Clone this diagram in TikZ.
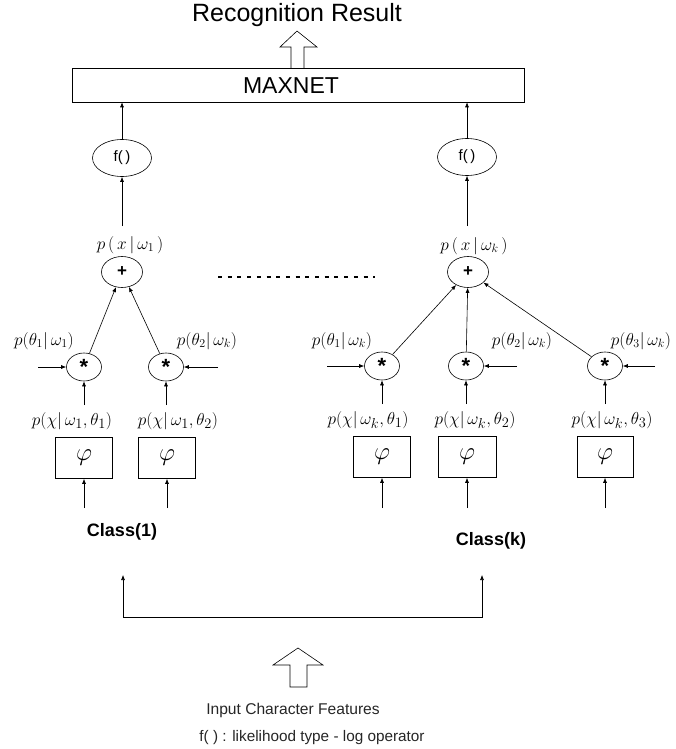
\documentclass[tikz,border=0pt]{standalone}
\usepackage{fontspec}
\setmainfont{Liberation Sans}
\usetikzlibrary{shapes.geometric,arrows.meta}
\begin{document}
\begin{tikzpicture}[x=1pt,y=-1pt,
  line width=0.6pt,
  arr/.style={-{Latex[length=5pt,width=4pt]}},
  arrboth/.style={{Latex[length=5pt,width=4pt]}-{Latex[length=5pt,width=4pt]}},
  ell/.style={draw,ellipse,inner sep=0pt},
  fnode/.style={ell,minimum width=59pt,minimum height=37pt,font=\fontsize{15}{15}\selectfont},
  plusnode/.style={ell,minimum width=41pt,minimum height=31pt,font=\fontsize{17}{17}\selectfont\bfseries},
  starnode/.style={ell,minimum width=35pt,minimum height=28pt,font=\fontsize{22}{22}\selectfont\bfseries},
  phibox/.style={draw,minimum width=57pt,minimum height=41pt,inner sep=0pt,font=\fontsize{24}{24}\selectfont},
  mlab/.style={inner sep=0pt,font=\fontsize{18}{18}\selectfont},
  hollow/.style={draw,fill=white,line width=0.6pt},
  txt/.style={inner sep=0pt}
]
\useasboundingbox (0,0) rectangle (675,749);

% top title and hollow arrow
\node[txt,anchor=base,font=\fontsize{25}{25}\selectfont] (title) at (297,22) {Recognition Result};
\draw[hollow] (291,68) -- (291,47) -- (280,47) -- (297,31) -- (317,47) -- (304,47) -- (304,68);

% MAXNET
\node[draw,minimum width=452pt,minimum height=34pt,inner sep=0pt] (maxnet) at (298,85) {};
\node[txt,font=\fontsize{23}{23}\selectfont] (maxtxt) at (291,86) {MAXNET};

% f() nodes
\node[fnode] (f1) at (122,158) {f(\,)};
\node[fnode] (f2) at (467,157) {f(\,)};
\draw[arr] (f1) -- (f1 |- maxnet.south);
\draw[arr] (f2) -- (f2 |- maxnet.south);

% p(x|w) labels
\node[txt,font=\fontsize{17}{17}\selectfont] (px1) at (130,245) {$p\,(\,x\,|\,\omega_1\,)$};
\node[txt,font=\fontsize{17}{17}\selectfont] (px2) at (474,246) {$p\,(\,x\,|\,\omega_k\,)$};
\coordinate (px1a) at (122,226);
\coordinate (px2a) at (467,226);
\draw[arr] (px1a) -- (f1);
\draw[arr] (px2a) -- (f2);

% plus nodes
\node[plusnode] (plus1) at (122,272) {+};
\node[plusnode] (plus2) at (468,272) {+};

% dotted separator
\coordinate (dl) at (218,277);
\coordinate (dr) at (375,277);
\draw[line width=1.4pt,dash pattern=on 4pt off 5.7pt] (dl) -- (dr);

% star nodes
\node[starnode] (s1) at (84,367) {\raisebox{-6pt}{*}};
\node[starnode] (s2) at (166,367) {\raisebox{-6pt}{*}};
\node[starnode] (s3) at (382,366) {\raisebox{-6pt}{*}};
\node[starnode] (s4) at (466,366) {\raisebox{-6pt}{*}};
\node[starnode] (s5) at (605,366) {\raisebox{-6pt}{*}};

\draw[arr] (s1) -- (plus1);
\draw[arr] (s2) -- (plus1);
\draw[arr] (s3) -- (plus2);
\draw[arr] (s4) -- (plus2);
\draw[arr] (s5) -- (plus2);

% side inputs
\coordinate (i1) at (38,367);
\coordinate (i2) at (218,367);
\coordinate (i3) at (327,366);
\coordinate (i4) at (517,366);
\coordinate (i5) at (655,366);
\draw[arr] (i1) -- (s1);
\draw[arr] (i2) -- (s2);
\draw[arr] (i3) -- (s3);
\draw[arr] (i4) -- (s4);
\draw[arr] (i5) -- (s5);

% prior labels
\node[mlab] (t1) at (44,341) {$p(\theta_1|\,\omega_1)$};
\node[mlab] (t2) at (207,341) {$p(\theta_2|\,\omega_k)$};
\node[mlab] (t3) at (342,341) {$p(\theta_1|\,\omega_k)$};
\node[mlab] (t4) at (522,341) {$p(\theta_2|\,\omega_k)$};
\node[mlab] (t5) at (641,341) {$p(\theta_3|\,\omega_k)$};

% likelihood labels
\node[mlab,font=\fontsize{19}{19}\selectfont] (c1) at (72,421) {$p(\chi|\,\omega_1,\theta_1)$};
\node[mlab,font=\fontsize{19}{19}\selectfont] (c2) at (178,421) {$p(\chi|\,\omega_1,\theta_2)$};
\node[mlab,font=\fontsize{19}{19}\selectfont] (c3) at (368,420) {$p(\chi|\,\omega_k,\theta_1)$};
\node[mlab,font=\fontsize{19}{19}\selectfont] (c4) at (475,420) {$p(\chi|\,\omega_k,\theta_2)$};
\node[mlab,font=\fontsize{19}{19}\selectfont] (c5) at (612,420) {$p(\chi|\,\omega_k,\theta_3)$};
\coordinate (c1a) at (84,405);
\coordinate (c2a) at (166,405);
\coordinate (c3a) at (382,404);
\coordinate (c4a) at (466,404);
\coordinate (c5a) at (605,404);
\draw[arr] (c1a) -- (s1);
\draw[arr] (c2a) -- (s2);
\draw[arr] (c3a) -- (s3);
\draw[arr] (c4a) -- (s4);
\draw[arr] (c5a) -- (s5);

% phi boxes
\node[phibox] (phi1) at (84,458) {$\varphi$};
\node[phibox] (phi2) at (167,458) {$\varphi$};
\node[phibox] (phi3) at (382,457) {$\varphi$};
\node[phibox,minimum width=58pt] (phi4) at (467,457) {$\varphi$};
\node[phibox,minimum width=56pt] (phi5) at (605,457) {$\varphi$};
\coordinate (b1) at (84,508);
\coordinate (b2) at (167,508);
\coordinate (b3) at (382,508);
\coordinate (b4) at (467,508);
\coordinate (b5) at (605,508);
\draw[arr] (b1) -- (phi1);
\draw[arr] (b2) -- (phi2);
\draw[arr] (b3) -- (phi3);
\draw[arr] (b4) -- (phi4);
\draw[arr] (b5) -- (phi5);

% class labels
\node[txt,font=\fontsize{18}{18}\selectfont\bfseries] (cls1) at (122,532) {Class(1)};
\node[txt,font=\fontsize{18}{18}\selectfont\bfseries] (clsk) at (491,541) {Class(k)};

% distribution bracket
\coordinate (tl) at (123,575);
\coordinate (bl) at (123,617);
\coordinate (br) at (482,617);
\coordinate (tr) at (482,575);
\draw[arrboth] (tl) -- (bl) -- (br) -- (tr);

% bottom hollow arrow
\draw[hollow] (290,687) -- (290,665) -- (273,665) -- (298,648) -- (323,665) -- (307,665) -- (307,687) -- cycle;

% bottom texts
\node[txt,font=\fontsize{15.6}{16}\selectfont,text=black!85] (inp) at (293,710) {Input Character Features};
\node[txt,font=\fontsize{15.3}{16}\selectfont,text=black!85] (note) at (312,738) {f( ) : likelihood type - log operator};
\end{tikzpicture}
\end{document}
